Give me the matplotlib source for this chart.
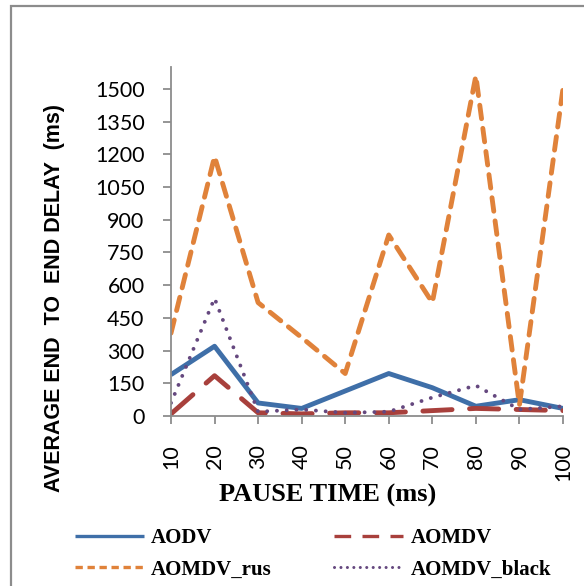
import matplotlib.pyplot as plt
from matplotlib.patches import Rectangle
from matplotlib.lines import Line2D

# Pause time (ms) on x, average end-to-end delay (ms) on y
pause_time = [10, 20, 30, 40, 50, 60, 70, 80, 90, 100]
aodv = [190, 320, 60, 35, 115, 195, 130, 45, 75, 35]
aomdv = [10, 185, 15, 10, 15, 15, 25, 35, 30, 25]
aomdv_rus = [380, 1190, 520, 360, 195, 830, 520, 1560, 50, 1500]
aomdv_black = [60, 540, 20, 30, 15, 20, 85, 140, 30, 45]
y_ticks = [0, 150, 300, 450, 600, 750, 900, 1050, 1200, 1350, 1500]

c_aodv, c_aomdv, c_rus, c_black = '#3f6fa8', '#a8403c', '#e0823a', '#65487f'

fig = plt.figure(figsize=(5.84, 5.86), dpi=100)
ax = fig.add_axes([0.2928, 0.290, 0.964 - 0.2928, 0.8857 - 0.290])

# outer chart frame
fig.patches.append(Rectangle((11 / 584, -0.05), 1.2, 1.05 - 6 / 586,
                             transform=fig.transFigure, fill=False,
                             edgecolor='#8c8c8c', linewidth=1.6))

ax.plot(pause_time, aodv, color=c_aodv, linewidth=3.5, solid_capstyle='butt')
ax.plot(pause_time, aomdv, color=c_aomdv, linewidth=3.5,
        dashes=(6, 3.6), dash_capstyle='round')
ax.plot(pause_time, aomdv_rus, color=c_rus, linewidth=3.5,
        dashes=(2.8, 2), dash_capstyle='round')
ax.plot(pause_time, aomdv_black, color=c_black, linewidth=2.8,
        dashes=(0.01, 2.5), dash_capstyle='round')

ax.set_xlim(10, 100)
ax.set_ylim(0, 1600)
ax.set_xticks(pause_time)
ax.set_yticks(y_ticks)
ax.set_xticklabels([str(v) for v in pause_time], rotation=90,
                   family='Lato', fontsize=15.5)
ax.set_yticklabels([str(v) for v in y_ticks], family='Lato', fontsize=15.5)

for side in ['top', 'right']:
    ax.spines[side].set_visible(False)
for side in ['left', 'bottom']:
    ax.spines[side].set_color('#8c8c8c')
    ax.spines[side].set_linewidth(1.3)
ax.tick_params(axis='both', colors='#8c8c8c', labelcolor='black',
               length=6, width=1.3, direction='out')
ax.tick_params(axis='y', pad=13)
ax.tick_params(axis='x', pad=14)

fig.text(55 / 584, 1 - 298 / 586, 'AVERAGE END  TO  END DELAY  (ms)',
         family='Liberation Sans', fontweight='bold', fontsize=15.5,
         rotation=90, ha='center', va='center')
fig.text(328 / 584, 1 - 495 / 586, 'PAUSE TIME (ms)', family='Liberation Serif',
         fontweight='bold', fontsize=19, ha='center', va='center')

# legend keys are drawn thinner than the plotted lines
h_aodv = Line2D([], [], color=c_aodv, linewidth=2.4, solid_capstyle='butt')
h_aomdv = Line2D([], [], color=c_aomdv, linewidth=2.4, dashes=(5, 3.4))
h_rus = Line2D([], [], color=c_rus, linewidth=2.4, dashes=(2.2, 1.4))
h_black = Line2D([], [], color=c_black, linewidth=2.2,
                 dashes=(0.01, 2.1), dash_capstyle='round')

# row 1 AODV / AOMDV, row 2 AOMDV_rus / AOMDV_black
fig.legend([h_aodv, h_rus, h_aomdv, h_black],
           ['AODV', 'AOMDV_rus', 'AOMDV', 'AOMDV_black'],
           loc='upper left', bbox_to_anchor=(75 / 584, 1 - 528 / 586), ncol=2,
           frameon=False, handlelength=3.3, columnspacing=3.0,
           handletextpad=0.35, labelspacing=0.55, borderpad=0,
           borderaxespad=0,
           prop={'family': 'Liberation Serif', 'weight': 'bold', 'size': 15})

fig.savefig('out.png', dpi=100)
